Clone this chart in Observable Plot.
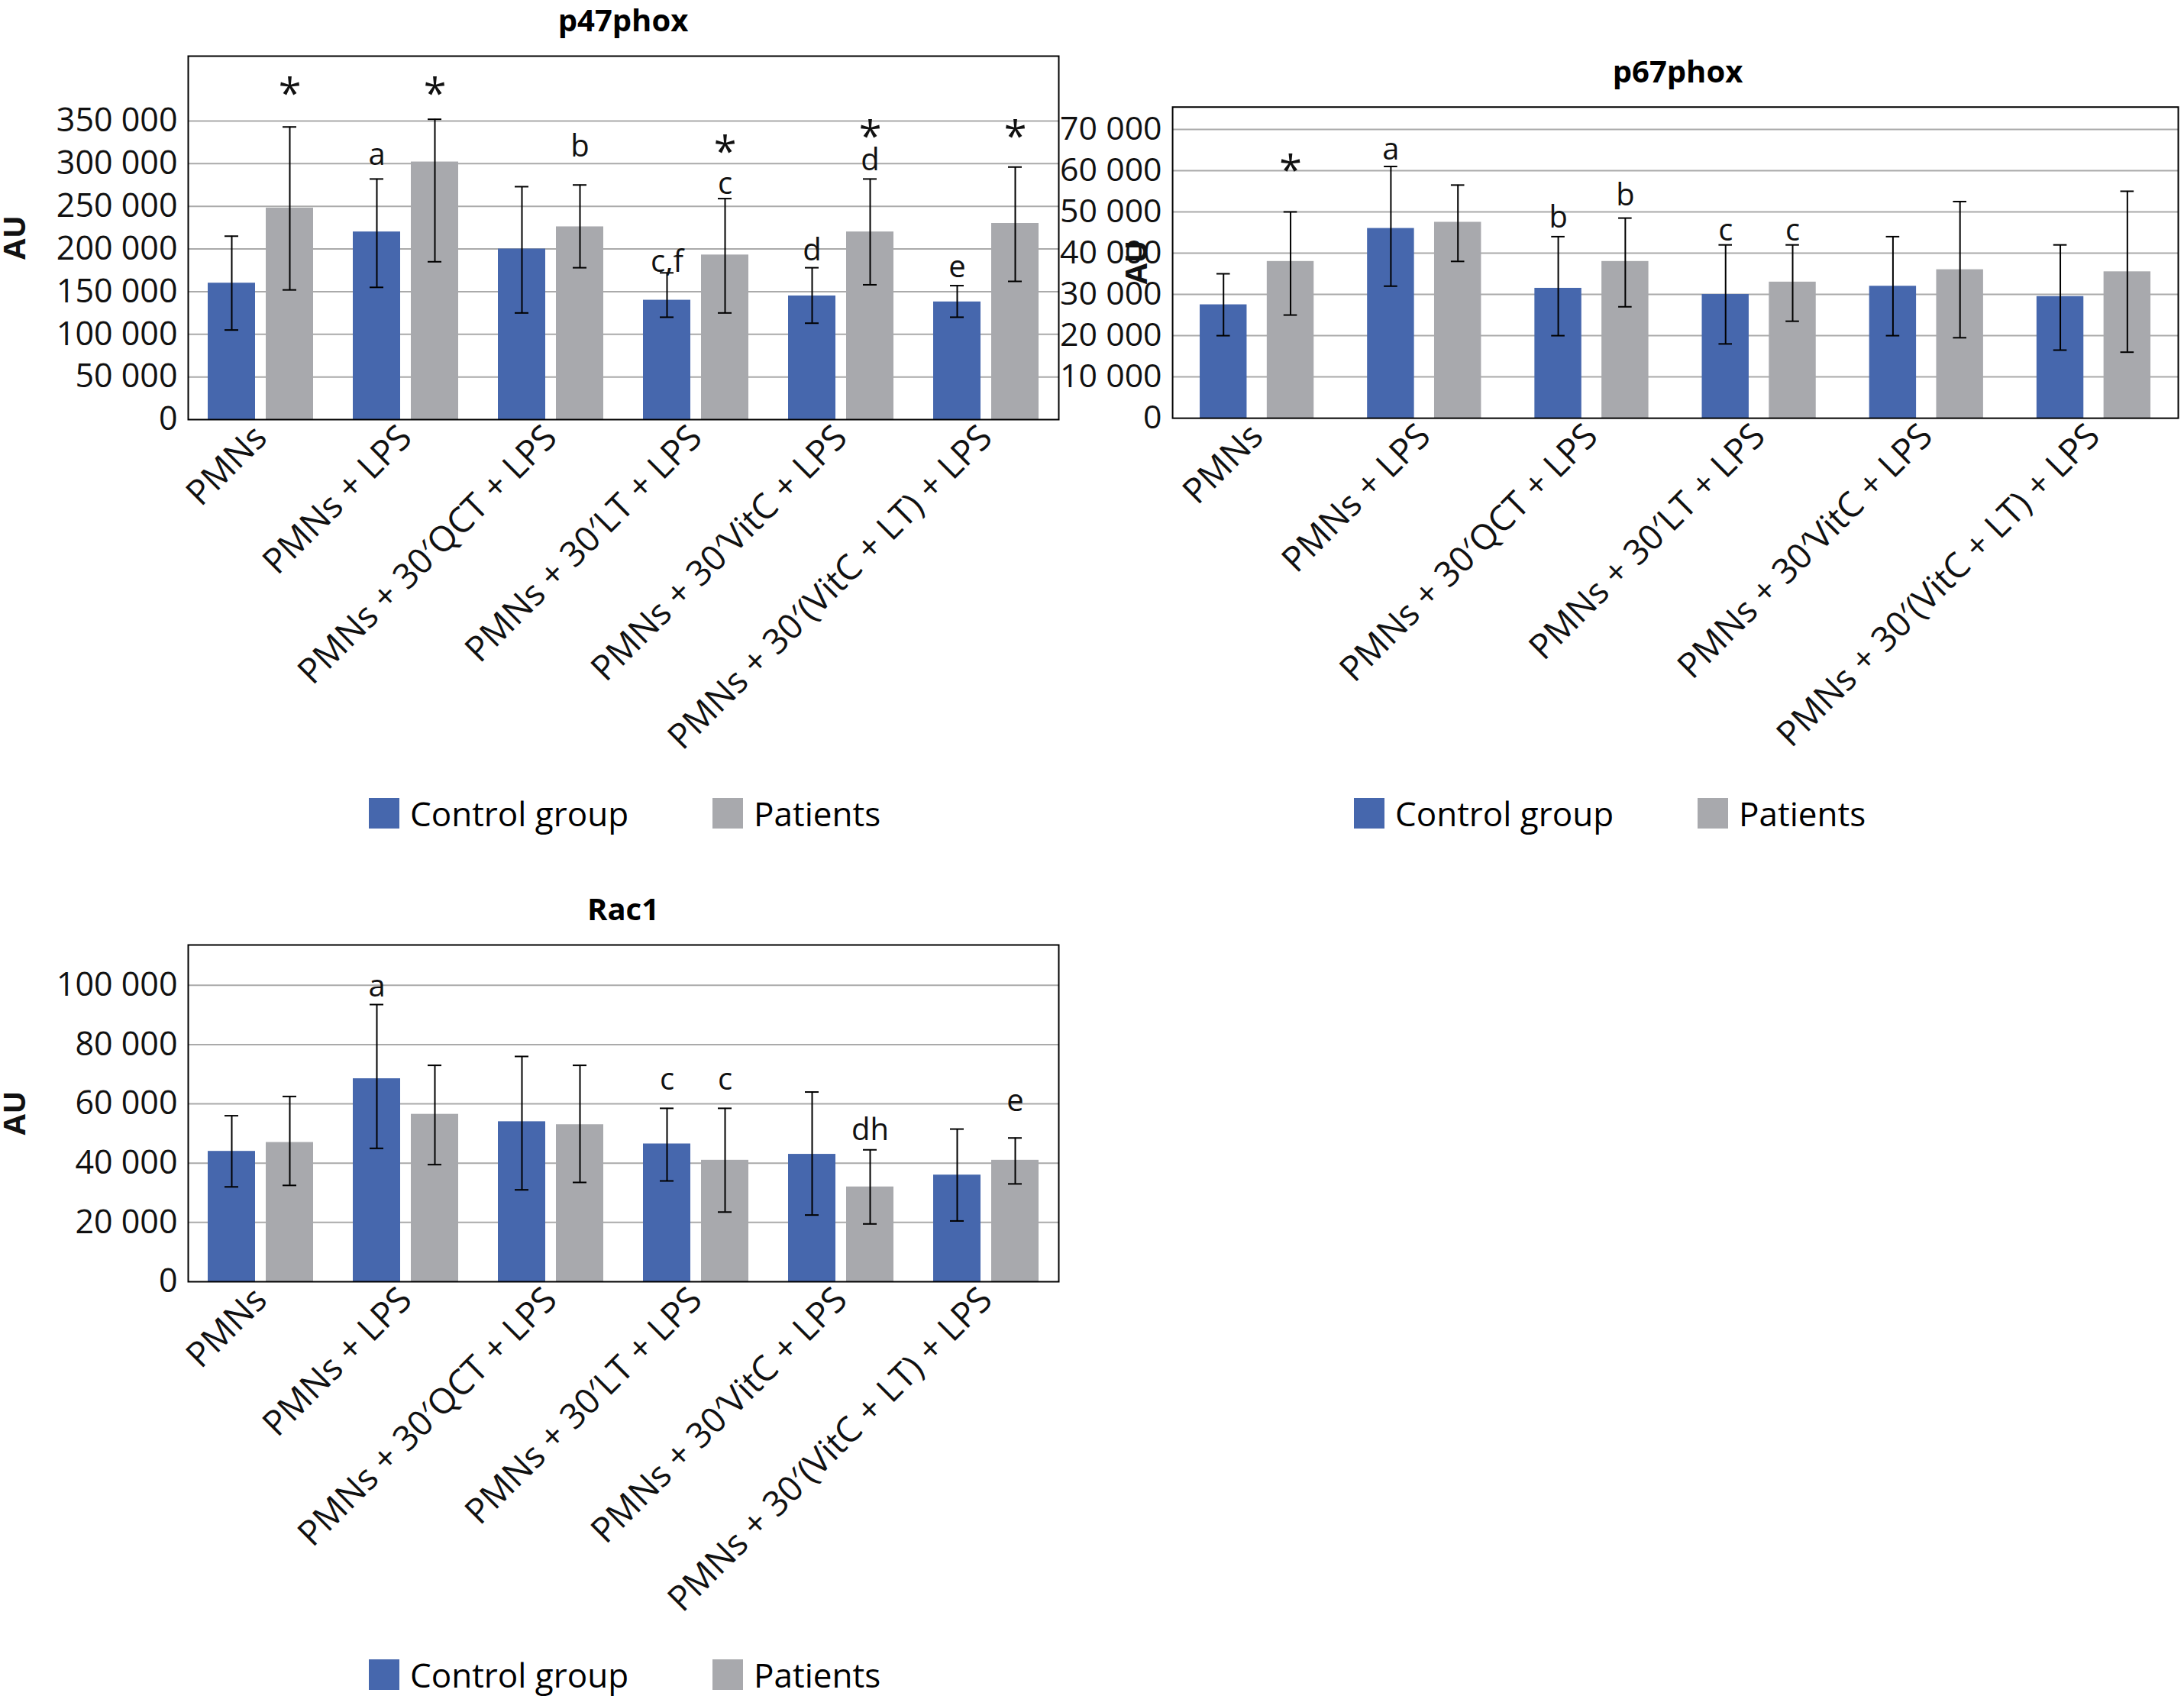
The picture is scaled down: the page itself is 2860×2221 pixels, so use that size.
<!DOCTYPE html>
<html><head><meta charset="utf-8">
<script src="https://cdn.jsdelivr.net/npm/d3@7"></script>
<script src="https://cdn.jsdelivr.net/npm/@observablehq/plot@0.6"></script>
<style>
body{margin:0;background:#fff;width:2860px;height:2221px;position:relative;overflow:hidden;font-family:"Open Sans",sans-serif;}
.p{position:absolute}
.t{position:absolute;font-weight:bold;font-size:40px;text-align:center;transform:translateX(-50%)}
.lg{position:absolute;font-size:44px;display:flex;align-items:center}
.sw{width:40px;height:40px;display:inline-block;margin-right:14px}
</style></head><body>
<script>
const groups=["PMNs","PMNs + LPS","PMNs + 30′QCT + LPS","PMNs + 30′LT + LPS","PMNs + 30′VitC + LPS","PMNs + 30′(VitC + LT) + LPS"];
// p47phox
const p47Control=[160000,220000,200000,140000,145000,138000];
const p47ControlLo=[105000,155000,125000,120000,113000,120000];
const p47ControlHi=[215000,282000,273000,172000,178000,157000];
const p47Patients=[248000,302000,226000,193000,220000,230000];
const p47PatientsLo=[152000,185000,178000,125000,158000,162000];
const p47PatientsHi=[343000,352000,275000,259000,282000,296000];
const p47Labels=[["PMNs + LPS","c","a",310000],["PMNs + 30′LT + LPS","c","c,f",185000],["PMNs + 30′VitC + LPS","c","d",198000],["PMNs + 30′(VitC + LT) + LPS","c","e",178000],
 ["PMNs","p","*",380000],["PMNs + LPS","p","*",380000],["PMNs + 30′QCT + LPS","p","b",320000],["PMNs + 30′LT + LPS","p","*",312000],["PMNs + 30′LT + LPS","p","c",276000],["PMNs + 30′VitC + LPS","p","*",330000],["PMNs + 30′VitC + LPS","p","d",304000],["PMNs + 30′(VitC + LT) + LPS","p","*",330000]];
const p47Ticks=[0,50000,100000,150000,200000,250000,300000,350000];
// p67phox
const p67Control=[27500,46000,31500,30000,32000,29500];
const p67ControlLo=[20000,32000,20000,18000,20000,16500];
const p67ControlHi=[35000,61000,44000,42000,44000,42000];
const p67Patients=[38000,47500,38000,33000,36000,35500];
const p67PatientsLo=[25000,38000,27000,23500,19500,16000];
const p67PatientsHi=[50000,56500,48500,42000,52500,55000];
const p67Labels=[["PMNs","p","*",60000],["PMNs + LPS","c","a",65000],["PMNs + 30′QCT + LPS","c","b",48500],["PMNs + 30′QCT + LPS","p","b",54000],["PMNs + 30′LT + LPS","c","c",45500],["PMNs + 30′LT + LPS","p","c",45500]];
const p67Ticks=[0,10000,20000,30000,40000,50000,60000,70000];
// Rac1
const racControl=[44000,68500,54000,46500,43000,36000];
const racControlLo=[32000,45000,31000,34000,22500,20500];
const racControlHi=[56000,93500,76000,58500,64000,51500];
const racPatients=[47000,56500,53000,41000,32000,41000];
const racPatientsLo=[32500,39500,33500,23500,19500,33000];
const racPatientsHi=[62500,73000,73000,58500,44500,48500];
const racLabels=[["PMNs + LPS","c","a",99500],["PMNs + 30′LT + LPS","c","c",68000],["PMNs + 30′LT + LPS","p","c",68000],["PMNs + 30′VitC + LPS","p","dh",51000],["PMNs + 30′(VitC + LT) + LPS","p","e",61000]];
const racTicks=[0,20000,40000,60000,80000,100000];

const BLUE="#4667ad", GRAY="#a8a9ad";
const fmt=d=>d3.format(",")(d).replace(/,/g," ");

function panel({left,top,plotW,plotH,ymax,ticks,ctl,ctlLo,ctlHi,pat,patLo,patHi,labels,title,legendTop,auX}){
  const mL=246,mT=73,mB=520,mR=8;
  const bw=plotW/6, off=38*bw/190;
  const rows=s=>groups.map((g,i)=>({g,v:s[0][i],lo:s[1][i],hi:s[2][i]}));
  const C=rows([ctl,ctlLo,ctlHi]), P=rows([pat,patLo,patHi]);
  const marks=[];
  marks.push(Plot.gridY(ticks.slice(1),{stroke:"#aaa",strokeOpacity:1,strokeWidth:2}));
  [[C,-off,BLUE],[P,off,GRAY]].forEach(([d,o,col])=>{
    const c=bw/2+o;
    marks.push(Plot.barY(d,{x:"g",y:"v",fill:col,insetLeft:c-31,insetRight:bw-c-31}));
    marks.push(Plot.ruleX(d,{x:"g",y1:"lo",y2:"hi",dx:o,stroke:"black",strokeWidth:2}));
    marks.push(Plot.tickY(d,{x:"g",y:"lo",insetLeft:c-9,insetRight:bw-c-9,stroke:"black",strokeWidth:2}));
    marks.push(Plot.tickY(d,{x:"g",y:"hi",insetLeft:c-9,insetRight:bw-c-9,stroke:"black",strokeWidth:2}));
  });
  const L=labels.map(([g,s,t,y])=>({g,s,t,y}));
  marks.push(Plot.text(L.filter(d=>d.s==="c"),{x:"g",y:"y",text:"t",dx:-off,fontSize:40,lineAnchor:"middle",fill:"#111"}));
  marks.push(Plot.text(L.filter(d=>d.s==="p"),{x:"g",y:"y",text:"t",dx:off,fontSize:d=>d.t==="*"?54:40,lineAnchor:"middle",fill:"#111",fontWeight:d=>d.t==="*"?"bold":"normal"}));
  marks.push(Plot.axisY({ticks,tickFormat:fmt,tickSize:0,tickPadding:14,fontSize:43,label:null}));
  marks.push(Plot.axisX({tickSize:0,tickRotate:-45,fontSize:46,tickPadding:16,label:null}));
  marks.push(Plot.frame({stroke:"black",strokeWidth:2}));
  const svg=Plot.plot({width:mL+plotW+mR,height:mT+plotH+mB,marginLeft:mL,marginTop:mT,marginBottom:mB,marginRight:mR,
    style:{fontFamily:"Open Sans",color:"#111",background:"transparent",overflow:"visible"},
    x:{domain:groups,padding:0,axis:null},y:{domain:[0,ymax],axis:null},marks});
  const d=document.createElement("div");d.className="p";d.style.left=left+"px";d.style.top=top+"px";d.appendChild(svg);document.body.appendChild(d);
  d3.select(svg).append("text").attr("transform",`translate(${auX},${mT+plotH/2}) rotate(-90)`).attr("text-anchor","middle")
    .attr("dominant-baseline","middle").attr("font-size",40).attr("font-weight","bold").attr("font-family","Open Sans").attr("fill","#111").text("AU");
  const t=document.createElement("div");t.className="t";t.textContent=title;t.style.left=(left+mL+plotW/2)+"px";t.style.top=(top+mT-75)+"px";document.body.appendChild(t);
  const lg=document.createElement("div");lg.className="lg";lg.style.left=(left+mL+237)+"px";lg.style.top=legendTop+"px";
  lg.innerHTML=`<span class="sw" style="background:${BLUE}"></span><span style="margin-right:110px">Control group</span><span class="sw" style="background:${GRAY}"></span><span>Patients</span>`;
  document.body.appendChild(lg);
}
panel({left:0,top:0,plotW:1140,plotH:476,ymax:426000,ticks:p47Ticks,ctl:p47Control,ctlLo:p47ControlLo,ctlHi:p47ControlHi,pat:p47Patients,patLo:p47PatientsLo,patHi:p47PatientsHi,labels:p47Labels,title:"p47phox",legendTop:1035,auX:22});
panel({left:1290,top:67,plotW:1322,plotH:409,ymax:75400,ticks:p67Ticks,ctl:p67Control,ctlLo:p67ControlLo,ctlHi:p67ControlHi,pat:p67Patients,patLo:p67PatientsLo,patHi:p67PatientsHi,labels:p67Labels,title:"p67phox",legendTop:1035,auX:202});
panel({left:0,top:1164,plotW:1140,plotH:441,ymax:113600,ticks:racTicks,ctl:racControl,ctlLo:racControlLo,ctlHi:racControlHi,pat:racPatients,patLo:racPatientsLo,patHi:racPatientsHi,labels:racLabels,title:"Rac1",legendTop:2163,auX:22});
</script>
</body></html>
